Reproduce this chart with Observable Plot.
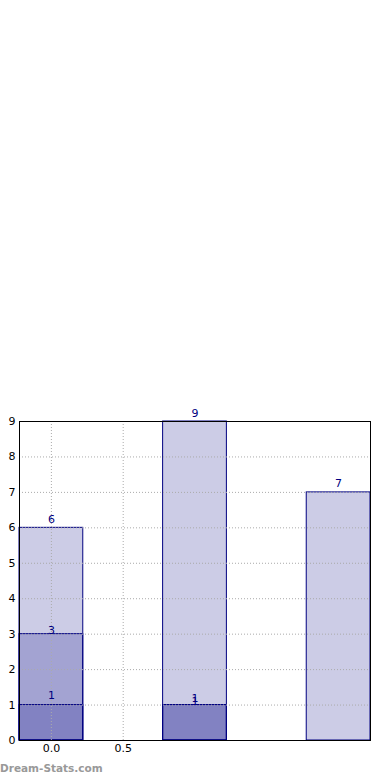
<!DOCTYPE html>
<html>
<head>
<meta charset="utf-8">
<script src="https://cdn.jsdelivr.net/npm/d3@7"></script>
<script src="https://cdn.jsdelivr.net/npm/@observablehq/plot@0.6"></script>
<style>
  html, body { margin: 0; padding: 0; background: #fff; }
  #wrap { position: relative; width: 390px; height: 780px; overflow: hidden; }
  #mark { position: absolute; left: 0px; top: 762px; font: bold 10.5px "DejaVu Sans", sans-serif; color: #999; }
</style>
</head>
<body>
<div id="wrap"><div id="chart"></div><div id="mark">Dream-Stats.com</div></div>
<script>
const centers = [0, 1, 2];
const barHalf = 0.222;
const seriesA = [6, 9, 7];
const seriesB = [3, 1, null];
const seriesC = [1, 1, null];
const yTicks = [0, 1, 2, 3, 4, 5, 6, 7, 8, 9];
const xTicks = [0, 0.5];
const xTickLabels = ["0.0", "0.5"];

const layers = [];
[seriesA, seriesB, seriesC].forEach((s, si) => {
  s.forEach((v, i) => {
    if (v != null) layers.push({x1: centers[i] - barHalf, x2: centers[i] + barHalf, xc: centers[i], y: v, s: si});
  });
});

const navy = "#000080";
const lbl = (data, dy) => Plot.text(data, {x: "xc", y: "y", text: d => String(d.y), dy, lineAnchor: "bottom", fill: navy, fontSize: 11});
const chart = Plot.plot({
  width: 390,
  height: 780,
  marginTop: 421,
  marginBottom: 40,
  marginLeft: 19,
  marginRight: 20,
  style: {fontFamily: "DejaVu Sans, sans-serif", fontSize: "11px", background: "#fff"},
  x: {domain: [-0.222, 2.222], ticks: xTicks, tickSize: 0, label: null},
  y: {domain: [0, 9], ticks: yTicks, tickSize: 0, label: null},
  marks: [
    Plot.rectY(layers, {x1: "x1", x2: "x2", y1: 0, y2: "y", fill: navy, fillOpacity: 0.2, stroke: navy, strokeWidth: 1}),
    Plot.gridX(xTicks, {stroke: "#aaa", strokeOpacity: 1, strokeDasharray: "1,2"}),
    Plot.gridY(yTicks, {stroke: "#aaa", strokeOpacity: 1, strokeDasharray: "1,2"}),
    lbl(layers.filter(d => d.s === 0), -5),
    lbl(layers.filter(d => d.s === 1), 0),
    lbl(layers.filter(d => d.s === 2 && d.xc === 0), -6),
    lbl(layers.filter(d => d.s === 2 && d.xc !== 0), -3),
    Plot.frame({stroke: "#000"}),
    Plot.axisX(xTicks, {tickSize: 0, tickPadding: 4, tickFormat: (d) => xTickLabels[xTicks.indexOf(d)], fill: "#000"}),
    Plot.axisY(yTicks, {tickSize: 0, tickPadding: 4, fill: "#000"})
  ]
});
document.getElementById("chart").appendChild(chart);
</script>
</body>
</html>
